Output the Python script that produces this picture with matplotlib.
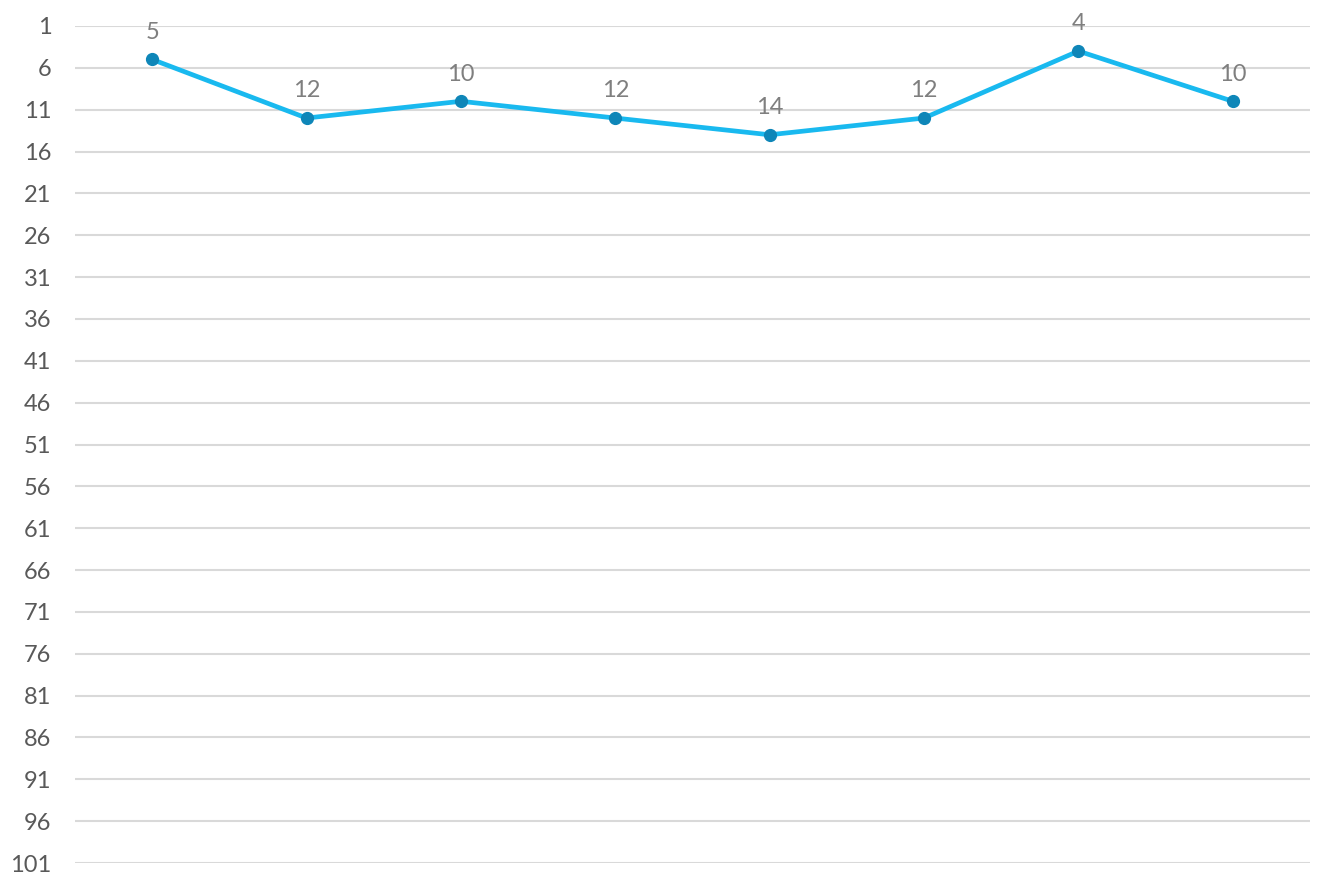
import matplotlib.pyplot as plt
import numpy as np

plt.rcParams['font.family'] = ['Lato', 'DejaVu Sans']

# ranks per period (lower is better, axis is inverted)
categories = ['1', '2', '3', '4', '5', '6', '7', '8']
ranks = [5, 12, 10, 12, 14, 12, 4, 10]
yticks = list(range(1, 102, 5))

fig = plt.figure(figsize=(13.34, 8.89), dpi=100)
ax = fig.add_axes([0.0562, 0.0292, 0.9258, 0.9416])

x = np.arange(len(categories))
ax.plot(x, ranks, color='#19b9ef', linewidth=3.4, zorder=3)
ax.plot(x, ranks, linestyle='none', marker='o', markersize=8.5,
        color='#0e86b8', zorder=4)

for xi, v in zip(x, ranks):
    ax.annotate(str(v), (xi, v), xytext=(0, 12), textcoords='offset points',
                ha='center', va='bottom', fontsize=17, color='#7f7f7f')

ax.set_xlim(-0.5, len(categories) - 0.5)
ax.set_ylim(101, 1)
ax.set_yticks(yticks)
ax.set_xticks([])
ax.tick_params(axis='y', length=0, pad=17, labelsize=17, labelcolor='#595959')
for lab in ax.get_yticklabels():
    lab.set_horizontalalignment('right')
ax.grid(axis='y', color='#d9d9d9', linewidth=1.5, zorder=0)
for s in ax.spines.values():
    s.set_visible(False)

plt.savefig('out.png', dpi=100)
